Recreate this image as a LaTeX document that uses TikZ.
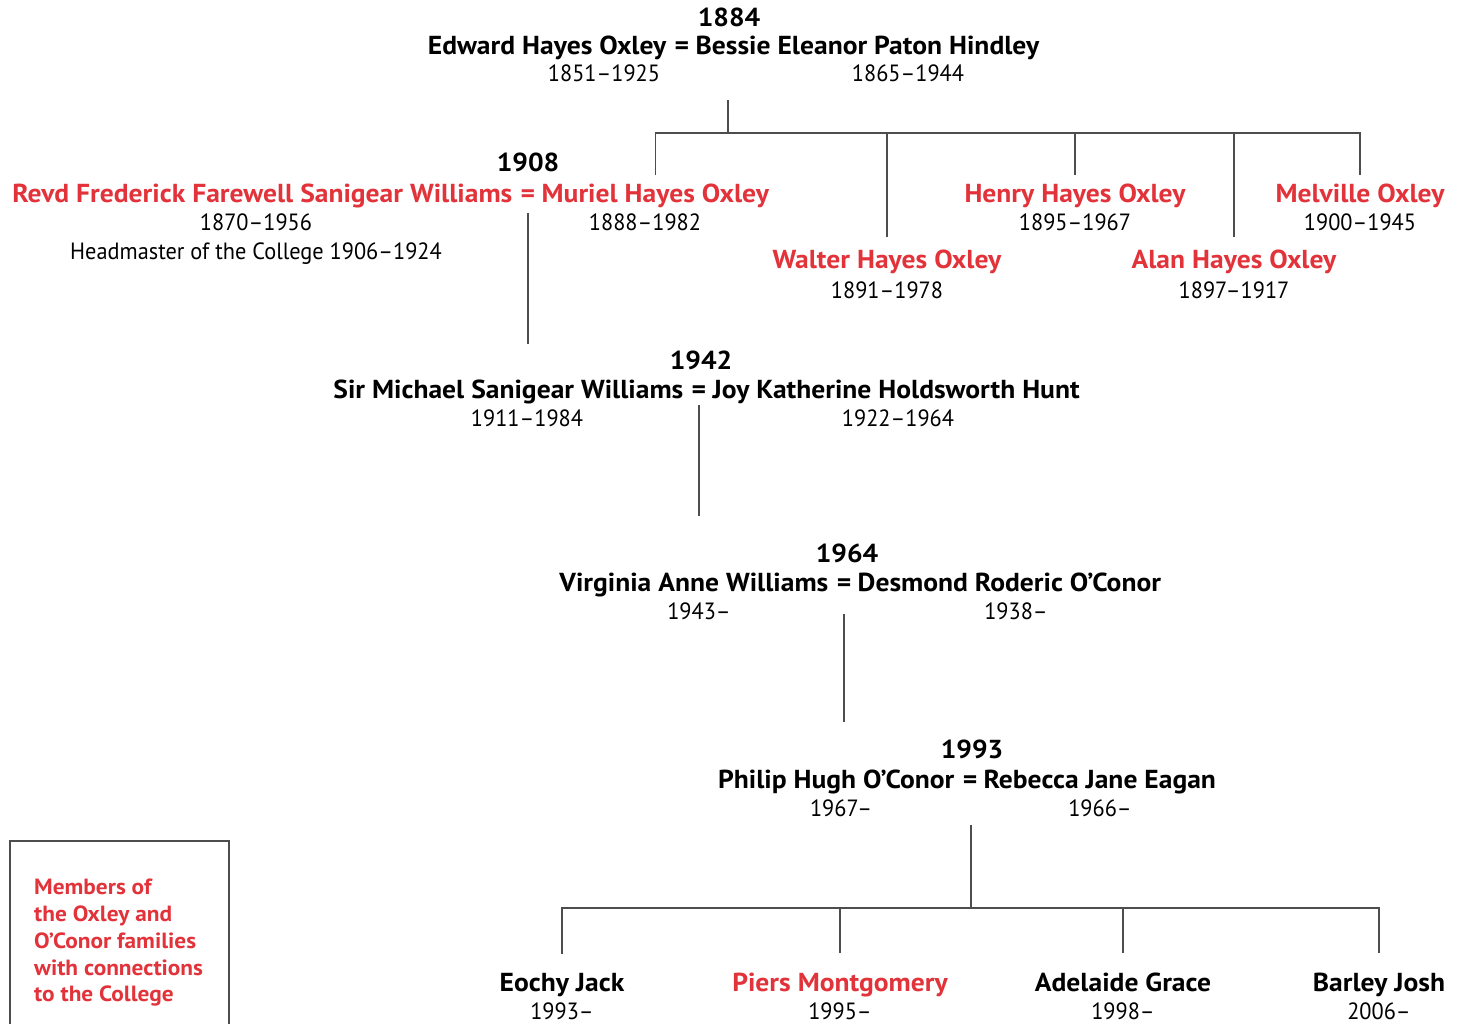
\documentclass[tikz,border=0pt]{standalone}
\usepackage{fontspec}
\setmainfont{PT Sans}[FakeStretch=0.95,BoldFeatures={FakeStretch=1.06}]
\usetikzlibrary{positioning}
\definecolor{oxred}{HTML}{E2333A}
\definecolor{linegray}{HTML}{4D4D4D}
\begin{document}
\begin{tikzpicture}[x=1pt,y=-1pt,
    every node/.style={inner sep=0pt,anchor=base},
    person/.style={font=\fontsize{26}{26}\selectfont\bfseries},
    member/.style={person,text=oxred},
    life/.style={font=\fontsize{23.5}{23.5}\selectfont},
    tie/.style={draw=linegray,line width=1.2pt}]
    \useasboundingbox (0,0) rectangle (1463,1024);

    % 1884
    \node[person] (y1884) at (729,27) {1884};
    \node[person] (eq1) at (682,55) {=};
    \node[person,base left=8pt of eq1] (edward) {Edward Hayes Oxley};
    \node[person,base right=6pt of eq1] (bessie) {Bessie Eleanor Paton Hindley};
    \node[life] (d-edward) at (604,82) {1851--1925};
    \node[life] (d-bessie) at (908,82) {1865--1944};

    % 1908
    \node[person] (y1908) at (528,172) {1908};
    \node[member] (eq2) at (528,203) {=};
    \node[member,base left=8pt of eq2] (frederick) {Revd Frederick Farewell Sanigear Williams};
    \node[member,base right=6pt of eq2] (muriel) {Muriel Hayes Oxley};
    \node[life] (d-frederick) at (256,231) {1870--1956};
    \node[life] (head) at (256,259) {Headmaster of the College 1906--1924};
    \node[life] (d-muriel) at (645,231) {1888--1982};

    \node[member] (walter) at (887,269) {Walter Hayes Oxley};
    \node[life] (d-walter) at (887,298) {1891--1978};
    \node[member] (henry) at (1075,203) {Henry Hayes Oxley};
    \node[life] (d-henry) at (1075,231) {1895--1967};
    \node[member] (alan) at (1234,269) {Alan Hayes Oxley};
    \node[life] (d-alan) at (1234,298) {1897--1917};
    \node[member] (melville) at (1360,203) {Melville Oxley};
    \node[life] (d-melville) at (1360,231) {1900--1945};

    % 1942
    \node[person] (y1942) at (701,369) {1942};
    \node[person] (eq3) at (699,398) {=};
    \node[person,base left=8pt of eq3] (michael) {Sir Michael Sanigear Williams};
    \node[person,base right=6pt of eq3] (joy) {Joy Katherine Holdsworth Hunt};
    \node[life] (d-michael) at (527,426) {1911--1984};
    \node[life] (d-joy) at (898,426) {1922--1964};

    % 1964
    \node[person] (y1964) at (847,562) {1964};
    \node[person] (eq4) at (844,591) {=};
    \node[person,base left=8pt of eq4] (virginia) {Virginia Anne Williams};
    \node[person,base right=6pt of eq4] (desmond) {Desmond Roderic O’Conor};
    \node[life] (d-virginia) at (699,619) {1943--};
    \node[life] (d-desmond) at (1016,619) {1938--};

    % 1993
    \node[person] (y1993) at (972,758) {1993};
    \node[person] (eq5) at (970,788) {=};
    \node[person,base left=8pt of eq5] (philip) {Philip Hugh O’Conor};
    \node[person,base right=6pt of eq5] (rebecca) {Rebecca Jane Eagan};
    \node[life] (d-philip) at (841,816) {1967--};
    \node[life] (d-rebecca) at (1100,816) {1966--};

    \node[person] (eochy) at (562,991) {Eochy Jack};
    \node[life] (d-eochy) at (562,1019) {1993--};
    \node[member] (piers) at (840,991) {Piers Montgomery};
    \node[life] (d-piers) at (840,1019) {1995--};
    \node[person] (adelaide) at (1123,991) {Adelaide Grace};
    \node[life] (d-adelaide) at (1123,1019) {1998--};
    \node[person] (barley) at (1379,991) {Barley Josh};
    \node[life] (d-barley) at (1379,1019) {2006--};

    % lines
    \coordinate (bar1) at (728,133);
    \draw[tie] ([yshift=-18pt]d-edward.base -| bar1) -- (bar1);
    \draw[tie] ([yshift=9pt]muriel.north) |- (bar1) -| ([yshift=9pt]melville.north);
    \foreach \kid/\gap in {walter/13,henry/9,alan/13}
        \draw[tie] (bar1 -| \kid.north) -- ([yshift=\gap pt]\kid.north);
    \draw[tie] ([yshift=-10pt]eq2.base) -- ([yshift=6pt]eq2.base |- y1942.north);
    \draw[tie] ([yshift=-7pt]eq3.base) -- ([yshift=27pt]eq3.base |- y1964.north);
    \draw[tie] ([yshift=-23pt]eq4.base) -- ([yshift=17pt]eq4.base |- y1993.north);

    \coordinate (bar5) at (971,908);
    \draw[tie] ([yshift=-9pt]d-rebecca.base -| bar5) -- (bar5);
    \draw[tie] ([yshift=19pt]eochy.north) |- (bar5) -| ([yshift=19pt]barley.north);
    \foreach \kid in {piers,adelaide}
        \draw[tie] (bar5 -| \kid.north) -- ([yshift=19pt]\kid.north);

    % key
    \draw[tie] (10,841) rectangle (229,1030);
    \node[anchor=north west,align=left,text=oxred,
        font=\fontsize{22}{26.75}\selectfont\bfseries] (key) at (34,879)
        {Members of\\the Oxley and\\O’Conor families\\with connections\\to the College};
\end{tikzpicture}
\end{document}
